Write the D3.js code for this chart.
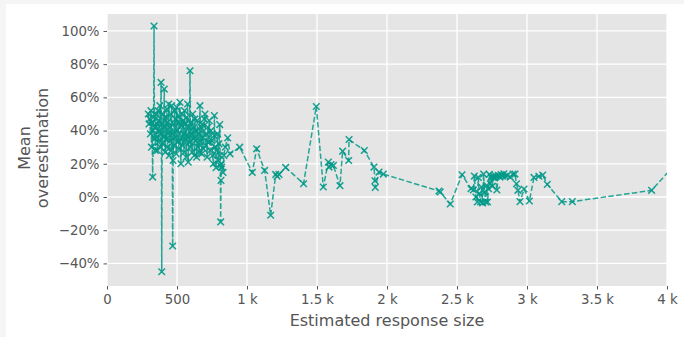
<!DOCTYPE html>
<html>
<head>
<meta charset="utf-8">
<script src="https://cdn.jsdelivr.net/npm/d3@7"></script>
<style>
  html, body { margin: 0; padding: 0; background: #f5f5f5; }
  svg { display: block; }
</style>
</head>
<body>
<div id="chart"></div>
<script>
// estimated response size (x) and mean overestimation in % (y), sorted by x
const sizes = [
  295, 300, 305, 310, 314, 318, 322, 326, 330, 333, 336, 339, 342, 346, 350, 353, 357, 360, 364, 368,
  371, 375, 378, 382, 386, 389, 391, 394, 398, 401, 405, 409, 412, 416, 420, 423, 427, 430, 434, 438,
  441, 445, 448, 452, 455, 459, 462, 466, 469, 472, 476, 479, 483, 487, 490, 494, 498, 501, 505, 509,
  512, 516, 521, 524, 528, 531, 535, 539, 543, 547, 550, 554, 558, 561, 565, 569, 572, 576, 580, 584,
  588, 593, 596, 600, 604, 608, 612, 616, 620, 624, 628, 632, 636, 640, 645, 649, 653, 658, 664, 668,
  672, 677, 682, 686, 690, 695, 700, 705, 710, 715, 720, 725, 730, 736, 742, 748, 754, 760, 765, 767,
  772, 779, 785, 790, 795, 800, 805, 808, 810, 812, 814, 816, 820, 829, 835, 845, 862, 879, 948, 1038,
  1069, 1126, 1169, 1205, 1215, 1229, 1276, 1404, 1495, 1545, 1581, 1586, 1600, 1617, 1664, 1683, 1726, 1729, 1838, 1907,
  1914, 1916, 1943, 1974, 2371, 2380, 2452, 2536, 2600, 2617, 2624, 2635, 2645, 2652, 2660, 2668, 2675, 2683, 2690, 2697,
  2705, 2712, 2718, 2725, 2731, 2738, 2745, 2752, 2760, 2768, 2775, 2785, 2795, 2807, 2815, 2825, 2835, 2845, 2860, 2880,
  2900, 2914, 2925, 2935, 2950, 2979, 3017, 3050, 3085, 3112, 3145, 3248, 3324, 3890, 4200
];
const overestimation = [
  50, 44, 47, 38, 52, 30, 45, 12, 40, 48, 103, 35, 42, 28, 50, 36, 44, 28, 52, 33,
  46, 40, 55, 30, 69, 38, -45, 44, 32, 50, 36, 65, 42, 27, 48, 35, 53, 30, 45, 38,
  56, 25, 42, 34, 50, 28, 55, 38, -29.5, 22, 44, 31, 52, 36, 47, 26, 54, 40, 33, 49,
  29, 45, 57, 35, 20, 43, 50, 31, 46, 38, 27, 52, 34, 44, 24, 48, 37, 56, 21, 42,
  33, 76, 30, 45, 38, 27, 50, 35, 42, 25, 47, 34, 40, 24, 46, 30, 38, 27, 55, 33,
  42, 26, 44, 36, 29, 47, 50, 31, 38, 24, 42, 33, 46, 28, 40, 34, 25, 20, 37, 49,
  30, 17.6, 28, 38, 22, 32, 43.6, 25, 19, -15, 10, 20, 18, 14.8, 25, 30, 35.6, 26, 30, 14.8,
  29, 16, -11, 13.6, 12.5, 13.6, 17.8, 8, 54.5, 6, 21, 18, 19.5, 19, 6.8, 27.6, 22, 34.6, 28, 18,
  9.8, 5.8, 15, 13.8, 3.6, 3, -4.2, 13.4, 5, 4.2, 12.6, 0, -3, 11.8, 2, -3, 6, -3.5, 13.8, 3,
  -3, 7, -3, 5, 13.6, 8, 12, 6.5, 12.5, 11.5, 12.8, 4.2, 13, 12, 13.5, 12.5, 14, 12.5, 13, 12,
  13.8, 13.8, 8, 4, -2.8, 4.8, -2.4, 11.8, 12.5, 13.2, 7.6, -2.8, -2.8, 4, 33
];
const xTicks = [0, 500, 1000, 1500, 2000, 2500, 3000, 3500, 4000];
const xTickLabels = ['0', '500', '1 k', '1.5 k', '2 k', '2.5 k', '3 k', '3.5 k', '4 k'];
const yTicks = [-40, -20, 0, 20, 40, 60, 80, 100];

const width = 684, height = 337;
const panel = { left: 107, right: 667, top: 14, bottom: 286 };
const lineColor = '#009988';
const textColor = '#555555';
const font = 'DejaVu Sans, sans-serif';

const svg = d3.select('#chart')
  .append('svg')
  .attr('width', width)
  .attr('height', height);

// white figure area
svg.append('rect')
  .attr('x', 6).attr('y', 4)
  .attr('width', width - 6).attr('height', height - 4)
  .attr('fill', '#ffffff');

const x = d3.scaleLinear().domain([0, 4000]).range([panel.left, panel.right]);
const y = d3.scaleLinear().domain([-53.6, 110.2]).range([panel.bottom, panel.top]);

// panel background
svg.append('rect')
  .attr('x', panel.left).attr('y', panel.top)
  .attr('width', panel.right - panel.left)
  .attr('height', panel.bottom - panel.top)
  .attr('fill', '#e5e5e5');

svg.append('clipPath').attr('id', 'clip')
  .append('rect')
  .attr('x', panel.left).attr('y', panel.top)
  .attr('width', panel.right - panel.left)
  .attr('height', panel.bottom - panel.top);

// grid
const grid = svg.append('g');
grid.selectAll('.gx')
  .data(xTicks)
  .enter()
  .append('line')
  .attr('x1', d => x(d)).attr('x2', d => x(d))
  .attr('y1', panel.top).attr('y2', panel.bottom)
  .style('stroke', '#ffffff')
  .style('stroke-width', 1.3);
grid.selectAll('.gy')
  .data(yTicks)
  .enter()
  .append('line')
  .attr('y1', d => y(d)).attr('y2', d => y(d))
  .attr('x1', panel.left).attr('x2', panel.right)
  .style('stroke', '#ffffff')
  .style('stroke-width', 1.3);

// axes
const xAxis = svg.append('g')
  .attr('transform', `translate(0,${panel.bottom})`)
  .call(d3.axisBottom(x).tickValues(xTicks).tickSize(3.5).tickPadding(5)
    .tickFormat((d, i) => xTickLabels[i]));
const yAxis = svg.append('g')
  .attr('transform', `translate(${panel.left},0)`)
  .call(d3.axisLeft(y).tickValues(yTicks).tickSize(3.5).tickPadding(4)
    .tickFormat(d => (d < 0 ? '\u2212' + Math.abs(d) : d) + '%'));

[xAxis, yAxis].forEach(a => {
  a.select('.domain').remove();
  a.selectAll('line').style('stroke', textColor);
  a.selectAll('text')
    .style('fill', textColor)
    .style('font-family', font)
    .style('font-size', '13.3px');
});

// axis titles
svg.append('text')
  .attr('x', (panel.left + panel.right) / 2)
  .attr('y', 326)
  .attr('text-anchor', 'middle')
  .style('font-family', font)
  .style('font-size', '16px')
  .style('fill', textColor)
  .text('Estimated response size');

const yTitle = svg.append('text')
  .attr('transform', `translate(31,148) rotate(-90)`)
  .attr('text-anchor', 'middle')
  .style('font-family', font)
  .style('font-size', '16px')
  .style('fill', textColor);
yTitle.append('tspan').attr('x', 0).attr('dy', '-0.05em').text('Mean');
yTitle.append('tspan').attr('x', 0).attr('dy', '1.1em').text('overestimation');

// data
const points = sizes.map((s, i) => [s, overestimation[i]]);
const plot = svg.append('g').attr('clip-path', 'url(#clip)');

plot.append('path')
  .datum(points)
  .attr('d', d3.line().x(d => x(d[0])).y(d => y(d[1])))
  .style('fill', 'none')
  .style('stroke', lineColor)
  .style('stroke-width', 1.5)
  .style('stroke-dasharray', '5.5,2.4')
  .style('opacity', 0.85);

const m = 3.3;
plot.selectAll('.marker')
  .data(points)
  .enter()
  .append('path')
  .attr('class', 'marker')
  .attr('transform', d => `translate(${x(d[0])},${y(d[1])})`)
  .attr('d', `M${-m},${-m}L${m},${m}M${-m},${m}L${m},${-m}`)
  .style('stroke', lineColor)
  .style('stroke-width', 1.5)
  .style('opacity', 0.9);
</script>
</body>
</html>
